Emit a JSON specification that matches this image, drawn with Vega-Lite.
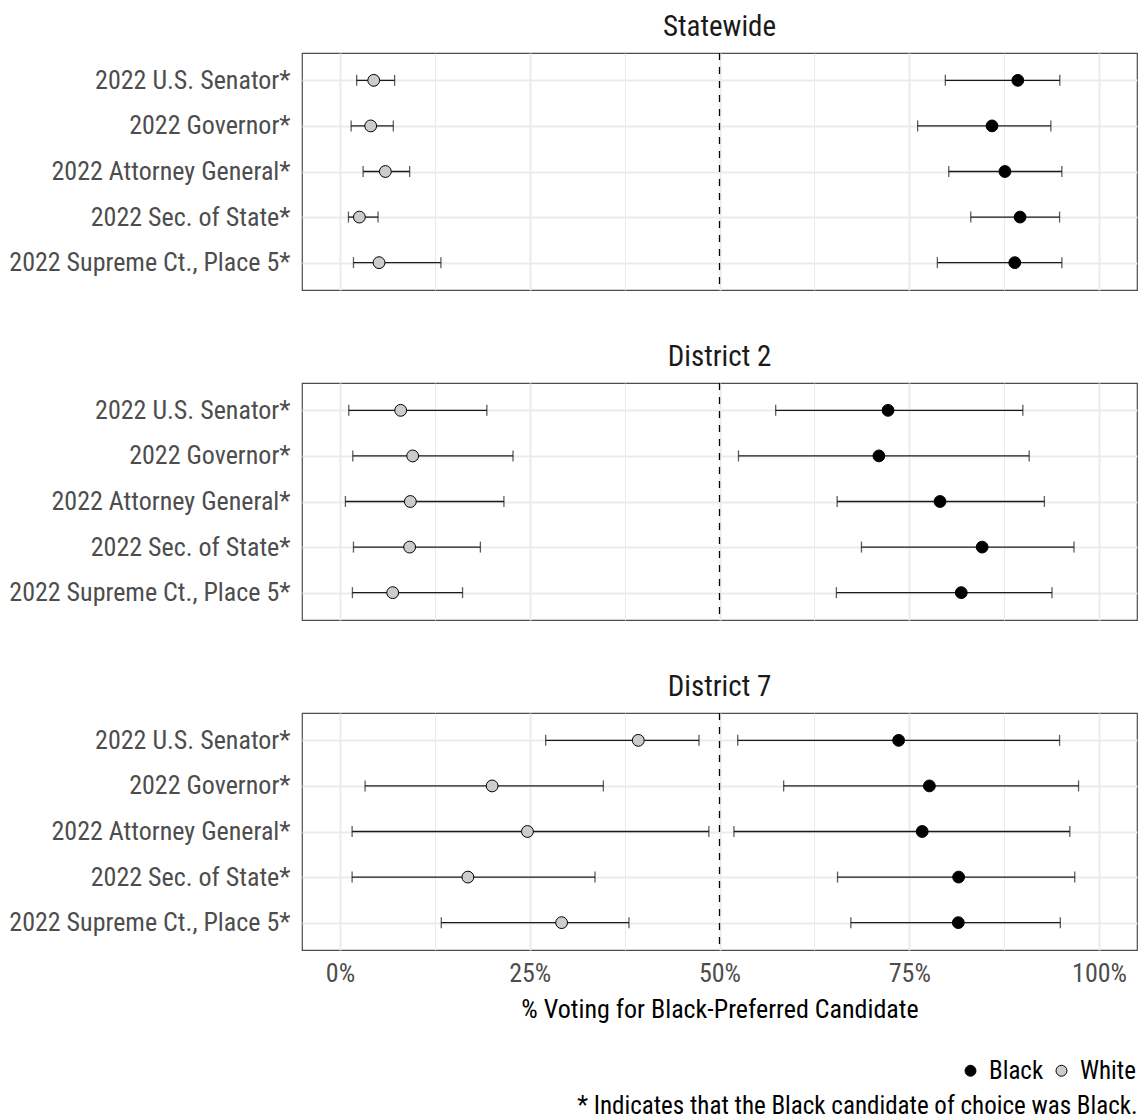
{
  "$schema": "https://vega.github.io/schema/vega-lite/v6.json",
  "padding": {"top": 12, "left": 8, "right": 0, "bottom": 0},
  "background": "white",
  "datasets": {
    "est": [
      {"panel": "Statewide", "contest": "2022 U.S. Senator*", "race": "White", "est": 0.0445, "lo": 0.022, "hi": 0.072},
      {"panel": "Statewide", "contest": "2022 Governor*", "race": "White", "est": 0.0405, "lo": 0.0147, "hi": 0.0703},
      {"panel": "Statewide", "contest": "2022 Attorney General*", "race": "White", "est": 0.0598, "lo": 0.0305, "hi": 0.0918},
      {"panel": "Statewide", "contest": "2022 Sec. of State*", "race": "White", "est": 0.0256, "lo": 0.0112, "hi": 0.0502},
      {"panel": "Statewide", "contest": "2022 Supreme Ct., Place 5*", "race": "White", "est": 0.0515, "lo": 0.0178, "hi": 0.133},
      {"panel": "Statewide", "contest": "2022 U.S. Senator*", "race": "Black", "est": 0.893, "lo": 0.7975, "hi": 0.9483},
      {"panel": "Statewide", "contest": "2022 Governor*", "race": "Black", "est": 0.859, "lo": 0.761, "hi": 0.9365},
      {"panel": "Statewide", "contest": "2022 Attorney General*", "race": "Black", "est": 0.876, "lo": 0.802, "hi": 0.951},
      {"panel": "Statewide", "contest": "2022 Sec. of State*", "race": "Black", "est": 0.896, "lo": 0.831, "hi": 0.948},
      {"panel": "Statewide", "contest": "2022 Supreme Ct., Place 5*", "race": "Black", "est": 0.889, "lo": 0.787, "hi": 0.951},
      {"panel": "District 2", "contest": "2022 U.S. Senator*", "race": "White", "est": 0.08, "lo": 0.0116, "hi": 0.1935},
      {"panel": "District 2", "contest": "2022 Governor*", "race": "White", "est": 0.0958, "lo": 0.0169, "hi": 0.228},
      {"panel": "District 2", "contest": "2022 Attorney General*", "race": "White", "est": 0.0927, "lo": 0.0072, "hi": 0.216},
      {"panel": "District 2", "contest": "2022 Sec. of State*", "race": "White", "est": 0.0918, "lo": 0.0178, "hi": 0.185},
      {"panel": "District 2", "contest": "2022 Supreme Ct., Place 5*", "race": "White", "est": 0.0695, "lo": 0.0164, "hi": 0.1615},
      {"panel": "District 2", "contest": "2022 U.S. Senator*", "race": "Black", "est": 0.722, "lo": 0.574, "hi": 0.8996},
      {"panel": "District 2", "contest": "2022 Governor*", "race": "Black", "est": 0.71, "lo": 0.525, "hi": 0.908},
      {"panel": "District 2", "contest": "2022 Attorney General*", "race": "Black", "est": 0.7905, "lo": 0.655, "hi": 0.928},
      {"panel": "District 2", "contest": "2022 Sec. of State*", "race": "Black", "est": 0.846, "lo": 0.687, "hi": 0.967},
      {"panel": "District 2", "contest": "2022 Supreme Ct., Place 5*", "race": "Black", "est": 0.8185, "lo": 0.654, "hi": 0.938},
      {"panel": "District 7", "contest": "2022 U.S. Senator*", "race": "White", "est": 0.393, "lo": 0.271, "hi": 0.473},
      {"panel": "District 7", "contest": "2022 Governor*", "race": "White", "est": 0.2005, "lo": 0.0331, "hi": 0.347},
      {"panel": "District 7", "contest": "2022 Attorney General*", "race": "White", "est": 0.247, "lo": 0.016, "hi": 0.486},
      {"panel": "District 7", "contest": "2022 Sec. of State*", "race": "White", "est": 0.1685, "lo": 0.016, "hi": 0.336},
      {"panel": "District 7", "contest": "2022 Supreme Ct., Place 5*", "race": "White", "est": 0.292, "lo": 0.1335, "hi": 0.3807},
      {"panel": "District 7", "contest": "2022 U.S. Senator*", "race": "Black", "est": 0.736, "lo": 0.524, "hi": 0.948},
      {"panel": "District 7", "contest": "2022 Governor*", "race": "Black", "est": 0.7765, "lo": 0.5845, "hi": 0.973},
      {"panel": "District 7", "contest": "2022 Attorney General*", "race": "Black", "est": 0.767, "lo": 0.519, "hi": 0.9615},
      {"panel": "District 7", "contest": "2022 Sec. of State*", "race": "Black", "est": 0.815, "lo": 0.6555, "hi": 0.968},
      {"panel": "District 7", "contest": "2022 Supreme Ct., Place 5*", "race": "Black", "est": 0.8146, "lo": 0.673, "hi": 0.949}
    ],
    "ref": [{"ref": 0.5}]
  },
  "title": {
    "text": "* Indicates that the Black candidate of choice was Black.",
    "orient": "bottom",
    "anchor": "end",
    "frame": "bounds",
    "fontSize": 25,
    "fontWeight": "normal",
    "color": "#000000",
    "baseline": "top",
    "offset": 10
  },
  "spacing": 50,
  "vconcat": [
    {
      "width": 835,
      "height": 237,
      "title": {"text": "Statewide"},
      "data": {"name": "est"},
      "transform": [{"filter": "datum.panel === 'Statewide'"}],
      "resolve": {"axis": {"x": "independent"}},
      "layer": [
        {
          "mark": {"type": "errorbar", "ticks": {"size": 11}, "thickness": 1.3, "color": "#1a1a1a"},
          "encoding": {
            "x": {"field": "lo", "type": "quantitative", "scale": {"domain": [-0.05, 1.05], "nice": false, "zero": false}, "axis": null},
            "x2": {"field": "hi"},
            "y": {"field": "contest", "type": "nominal", "scale": {"type": "point", "padding": 0.6, "domain": ["2022 U.S. Senator*", "2022 Governor*", "2022 Attorney General*", "2022 Sec. of State*", "2022 Supreme Ct., Place 5*"]}, "axis": {"title": null, "grid": true, "gridColor": "#ebebeb", "gridWidth": 2, "domain": false, "ticks": false, "tickSize": 0, "labelPadding": 12, "labelFontSize": 26, "labelLimit": 0, "labelColor": "#4d4d4d"}}
          }
        },
        {
          "mark": {"type": "point", "filled": true, "shape": "circle", "size": 140, "stroke": "#000000", "strokeWidth": 1, "opacity": 1},
          "encoding": {
            "x": {"field": "est", "type": "quantitative", "scale": {"domain": [-0.05, 1.05], "nice": false, "zero": false}, "axis": {"values": [0, 0.25, 0.5, 0.75, 1], "grid": true, "gridColor": "#ebebeb", "gridWidth": 2, "labels": false, "ticks": false, "tickSize": 0, "domain": false, "title": null}},
            "y": {"field": "contest", "type": "nominal", "scale": {"type": "point", "padding": 0.6, "domain": ["2022 U.S. Senator*", "2022 Governor*", "2022 Attorney General*", "2022 Sec. of State*", "2022 Supreme Ct., Place 5*"]}, "axis": {"title": null, "grid": true, "gridColor": "#ebebeb", "gridWidth": 2, "domain": false, "ticks": false, "tickSize": 0, "labelPadding": 12, "labelFontSize": 26, "labelLimit": 0, "labelColor": "#4d4d4d"}},
            "fill": {"field": "race", "type": "nominal", "scale": {"domain": ["Black", "White"], "range": ["#000000", "#cccccc"]}, "legend": {"title": null, "orient": "none", "direction": "horizontal", "legendX": 656, "legendY": 1005, "symbolType": "circle", "symbolSize": 120, "symbolStrokeColor": "#000000", "symbolStrokeWidth": 1, "labelFontSize": 25, "labelColor": "#000000", "labelOffset": 6, "columnPadding": 5}}
          }
        },
        {
          "data": {"name": "ref"},
          "mark": {"type": "rule", "strokeDash": [7, 7], "strokeWidth": 1.3, "color": "#000000"},
          "encoding": {
            "x": {"field": "ref", "type": "quantitative", "scale": {"domain": [-0.05, 1.05], "nice": false, "zero": false}, "axis": {"orient": "top", "values": [0.125, 0.375, 0.625, 0.875], "grid": true, "gridColor": "#ebebeb", "gridWidth": 1, "labels": false, "ticks": false, "tickSize": 0, "domain": false, "title": null}}
          }
        }
      ]
    },
    {
      "width": 835,
      "height": 237,
      "title": {"text": "District 2"},
      "data": {"name": "est"},
      "transform": [{"filter": "datum.panel === 'District 2'"}],
      "resolve": {"axis": {"x": "independent"}},
      "layer": [
        {
          "mark": {"type": "errorbar", "ticks": {"size": 11}, "thickness": 1.3, "color": "#1a1a1a"},
          "encoding": {
            "x": {"field": "lo", "type": "quantitative", "scale": {"domain": [-0.05, 1.05], "nice": false, "zero": false}, "axis": null},
            "x2": {"field": "hi"},
            "y": {"field": "contest", "type": "nominal", "scale": {"type": "point", "padding": 0.6, "domain": ["2022 U.S. Senator*", "2022 Governor*", "2022 Attorney General*", "2022 Sec. of State*", "2022 Supreme Ct., Place 5*"]}, "axis": {"title": null, "grid": true, "gridColor": "#ebebeb", "gridWidth": 2, "domain": false, "ticks": false, "tickSize": 0, "labelPadding": 12, "labelFontSize": 26, "labelLimit": 0, "labelColor": "#4d4d4d"}}
          }
        },
        {
          "mark": {"type": "point", "filled": true, "shape": "circle", "size": 140, "stroke": "#000000", "strokeWidth": 1, "opacity": 1},
          "encoding": {
            "x": {"field": "est", "type": "quantitative", "scale": {"domain": [-0.05, 1.05], "nice": false, "zero": false}, "axis": {"values": [0, 0.25, 0.5, 0.75, 1], "grid": true, "gridColor": "#ebebeb", "gridWidth": 2, "labels": false, "ticks": false, "tickSize": 0, "domain": false, "title": null}},
            "y": {"field": "contest", "type": "nominal", "scale": {"type": "point", "padding": 0.6, "domain": ["2022 U.S. Senator*", "2022 Governor*", "2022 Attorney General*", "2022 Sec. of State*", "2022 Supreme Ct., Place 5*"]}, "axis": {"title": null, "grid": true, "gridColor": "#ebebeb", "gridWidth": 2, "domain": false, "ticks": false, "tickSize": 0, "labelPadding": 12, "labelFontSize": 26, "labelLimit": 0, "labelColor": "#4d4d4d"}},
            "fill": {"field": "race", "type": "nominal", "scale": {"domain": ["Black", "White"], "range": ["#000000", "#cccccc"]}}
          }
        },
        {
          "data": {"name": "ref"},
          "mark": {"type": "rule", "strokeDash": [7, 7], "strokeWidth": 1.3, "color": "#000000"},
          "encoding": {
            "x": {"field": "ref", "type": "quantitative", "scale": {"domain": [-0.05, 1.05], "nice": false, "zero": false}, "axis": {"orient": "top", "values": [0.125, 0.375, 0.625, 0.875], "grid": true, "gridColor": "#ebebeb", "gridWidth": 1, "labels": false, "ticks": false, "tickSize": 0, "domain": false, "title": null}}
          }
        }
      ]
    },
    {
      "width": 835,
      "height": 237,
      "title": {"text": "District 7"},
      "data": {"name": "est"},
      "transform": [{"filter": "datum.panel === 'District 7'"}],
      "resolve": {"axis": {"x": "independent"}},
      "layer": [
        {
          "mark": {"type": "errorbar", "ticks": {"size": 11}, "thickness": 1.3, "color": "#1a1a1a"},
          "encoding": {
            "x": {"field": "lo", "type": "quantitative", "scale": {"domain": [-0.05, 1.05], "nice": false, "zero": false}, "axis": null},
            "x2": {"field": "hi"},
            "y": {"field": "contest", "type": "nominal", "scale": {"type": "point", "padding": 0.6, "domain": ["2022 U.S. Senator*", "2022 Governor*", "2022 Attorney General*", "2022 Sec. of State*", "2022 Supreme Ct., Place 5*"]}, "axis": {"title": null, "grid": true, "gridColor": "#ebebeb", "gridWidth": 2, "domain": false, "ticks": false, "tickSize": 0, "labelPadding": 12, "labelFontSize": 26, "labelLimit": 0, "labelColor": "#4d4d4d"}}
          }
        },
        {
          "mark": {"type": "point", "filled": true, "shape": "circle", "size": 140, "stroke": "#000000", "strokeWidth": 1, "opacity": 1},
          "encoding": {
            "x": {"field": "est", "type": "quantitative", "scale": {"domain": [-0.05, 1.05], "nice": false, "zero": false}, "axis": {"values": [0, 0.25, 0.5, 0.75, 1], "format": ".0%", "grid": true, "gridColor": "#ebebeb", "gridWidth": 2, "labels": true, "labelFontSize": 26, "labelColor": "#4d4d4d", "labelPadding": 10, "ticks": false, "tickSize": 0, "domain": false, "title": "% Voting for Black-Preferred Candidate", "titleFontSize": 26, "titleFontWeight": "normal", "titleColor": "#000000", "titlePadding": 10}},
            "y": {"field": "contest", "type": "nominal", "scale": {"type": "point", "padding": 0.6, "domain": ["2022 U.S. Senator*", "2022 Governor*", "2022 Attorney General*", "2022 Sec. of State*", "2022 Supreme Ct., Place 5*"]}, "axis": {"title": null, "grid": true, "gridColor": "#ebebeb", "gridWidth": 2, "domain": false, "ticks": false, "tickSize": 0, "labelPadding": 12, "labelFontSize": 26, "labelLimit": 0, "labelColor": "#4d4d4d"}},
            "fill": {"field": "race", "type": "nominal", "scale": {"domain": ["Black", "White"], "range": ["#000000", "#cccccc"]}}
          }
        },
        {
          "data": {"name": "ref"},
          "mark": {"type": "rule", "strokeDash": [7, 7], "strokeWidth": 1.3, "color": "#000000"},
          "encoding": {
            "x": {"field": "ref", "type": "quantitative", "scale": {"domain": [-0.05, 1.05], "nice": false, "zero": false}, "axis": {"orient": "top", "values": [0.125, 0.375, 0.625, 0.875], "grid": true, "gridColor": "#ebebeb", "gridWidth": 1, "labels": false, "ticks": false, "tickSize": 0, "domain": false, "title": null}}
          }
        }
      ]
    }
  ],
  "config": {
    "font": "Liberation Sans Narrow, Arial Narrow, Roboto Condensed, DejaVu Sans Condensed, sans-serif",
    "view": {"stroke": "#4d4d4d", "strokeWidth": 1.2},
    "title": {"fontSize": 29, "fontWeight": "normal", "color": "#1a1a1a", "offset": 10, "baseline": "alphabetic", "anchor": "middle", "frame": "group"},
    "axis": {"labelFont": "Liberation Sans Narrow, Arial Narrow, Roboto Condensed, DejaVu Sans Condensed, sans-serif", "titleFont": "Liberation Sans Narrow, Arial Narrow, Roboto Condensed, DejaVu Sans Condensed, sans-serif"},
    "legend": {"labelFont": "Liberation Sans Narrow, Arial Narrow, Roboto Condensed, DejaVu Sans Condensed, sans-serif"}
  }
}
